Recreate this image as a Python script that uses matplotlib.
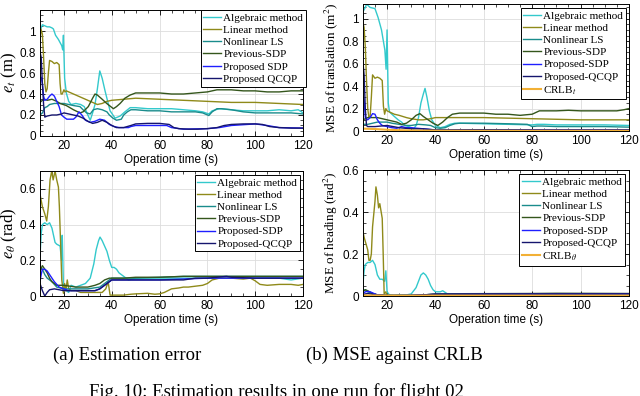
import numpy as np
import matplotlib
matplotlib.use('Agg')
import matplotlib.pyplot as plt
from matplotlib.ticker import AutoMinorLocator, FuncFormatter

plt.rcParams['font.family'] = ['Liberation Sans', 'DejaVu Sans']
plt.rcParams['mathtext.fontset'] = 'stix'

# ---------------- data ----------------
# (a) top: translation error e_t (m)
et_alg_t = [10, 11, 12, 13, 14, 15, 15.6, 16.5, 17.7, 19.1, 19.5, 19.8, 20.3, 21, 22, 23, 25, 27, 28.5, 30, 31, 32, 33, 34, 35, 36, 37.2, 38.3, 39.3, 41.4, 43.5, 45.5, 47.7, 50, 55, 60, 65, 70, 75, 78, 80.6, 82, 85, 90, 95, 100, 105, 110, 115, 118, 120]
et_alg = [1.0, 1.06, 1.05, 1.04, 1.04, 1.03, 1.02, 0.96, 0.92, 0.86, 0.82, 0.96, 0.55, 0.41, 0.33, 0.3, 0.31, 0.3, 0.28, 0.2, 0.15, 0.22, 0.3, 0.45, 0.62, 0.55, 0.43, 0.33, 0.24, 0.17, 0.19, 0.23, 0.27, 0.27, 0.26, 0.26, 0.26, 0.25, 0.24, 0.23, 0.21, 0.24, 0.26, 0.25, 0.24, 0.24, 0.24, 0.25, 0.24, 0.25, 0.22]
et_lin_t = [10, 10.4, 11, 11.5, 12, 12.5, 13, 13.5, 14, 15, 16, 17, 18, 18.4, 18.8, 19.3, 20, 20.5, 21, 22, 24, 26, 28, 30, 32, 34, 36, 38, 40, 45, 50, 60, 70, 80, 90, 100, 110, 120]
et_lin = [0.9, 1.02, 0.97, 0.75, 0.5, 0.42, 0.45, 0.6, 0.72, 0.71, 0.69, 0.7, 0.68, 0.5, 0.4, 0.4, 0.44, 0.42, 0.43, 0.42, 0.4, 0.38, 0.36, 0.34, 0.32, 0.3, 0.31, 0.33, 0.34, 0.35, 0.36, 0.35, 0.34, 0.33, 0.32, 0.32, 0.31, 0.3]
et_nls_t = [10, 11, 12, 13, 14, 16, 18, 20, 22, 24, 26.7, 28, 29.5, 31, 32.3, 34, 36, 38, 39, 40.5, 42, 44, 45, 46.5, 48, 50, 55, 60, 65, 70, 75, 78, 80.6, 82, 84, 86, 90, 95, 100, 105, 110, 115, 120]
et_nls = [0.2, 0.22, 0.27, 0.28, 0.3, 0.31, 0.31, 0.31, 0.3, 0.29, 0.28, 0.25, 0.22, 0.21, 0.25, 0.26, 0.25, 0.23, 0.2, 0.17, 0.15, 0.16, 0.2, 0.23, 0.25, 0.25, 0.24, 0.24, 0.23, 0.23, 0.23, 0.22, 0.195, 0.23, 0.26, 0.26, 0.25, 0.23, 0.22, 0.22, 0.22, 0.22, 0.21]
et_prev_t = [10, 11, 12, 13, 15, 17, 18.4, 21, 24, 26.7, 28, 30.2, 32, 33, 34, 36, 37.9, 40.7, 42, 43.5, 45.5, 47.7, 50, 55, 60, 65, 70, 75, 80, 82, 84, 90, 95, 100, 105, 110, 115, 120]
et_prev = [0.32, 0.34, 0.35, 0.34, 0.35, 0.33, 0.31, 0.29, 0.25, 0.22, 0.23, 0.28, 0.36, 0.4, 0.39, 0.35, 0.31, 0.26, 0.28, 0.31, 0.36, 0.39, 0.41, 0.41, 0.41, 0.4, 0.4, 0.41, 0.42, 0.43, 0.44, 0.44, 0.43, 0.43, 0.42, 0.42, 0.43, 0.43]
et_sdp_t = [10, 10.5, 11, 11.5, 12, 13, 14, 15, 16, 17, 18, 19, 20, 21.2, 24, 25, 26.3, 27.5, 29, 31, 33, 35, 37, 39, 41, 43, 45, 47, 48, 50, 55, 60, 63, 65, 70, 80, 85, 90, 100, 105, 110, 120]
et_sdp = [0.55, 0.56, 0.5, 0.38, 0.34, 0.35, 0.38, 0.4, 0.38, 0.33, 0.28, 0.2, 0.18, 0.16, 0.16, 0.18, 0.23, 0.2, 0.15, 0.13, 0.14, 0.16, 0.15, 0.11, 0.09, 0.08, 0.08, 0.08, 0.09, 0.1, 0.1, 0.1, 0.1, 0.08, 0.065, 0.07, 0.08, 0.1, 0.115, 0.1, 0.08, 0.075]
et_qcqp_t = [10, 10.5, 11, 11.5, 12, 13, 15, 17, 19, 20, 22, 24, 26, 28, 30, 32, 34, 36, 38, 40, 42, 45, 48, 50, 55, 60, 64, 66, 68, 72, 76, 80, 84, 87, 90, 95, 100, 103, 106, 110, 115, 120]
et_qcqp = [0.8, 0.75, 0.5, 0.3, 0.18, 0.19, 0.2, 0.2, 0.21, 0.22, 0.21, 0.2, 0.19, 0.17, 0.14, 0.12, 0.13, 0.15, 0.13, 0.1, 0.08, 0.08, 0.1, 0.115, 0.12, 0.12, 0.11, 0.08, 0.07, 0.065, 0.065, 0.07, 0.08, 0.1, 0.11, 0.115, 0.115, 0.11, 0.09, 0.08, 0.075, 0.075]

# (b) top: MSE of translation (m^2)
mt_alg_t = [10, 11, 11.5, 13, 15, 16.3, 17.7, 19.1, 19.6, 20, 20.5, 21, 22, 23, 24.6, 26, 27.4, 29, 30, 31, 32, 33, 34, 35, 35.7, 36.5, 37.5, 38.5, 40, 42, 44, 46, 48, 50, 60, 70, 80, 82, 85, 90, 100, 110, 120]
mt_alg = [1.06, 1.1, 1.13, 1.1, 1.09, 1.01, 0.9, 0.72, 0.55, 0.9, 0.25, 0.17, 0.15, 0.13, 0.1, 0.08, 0.05, 0.04, 0.03, 0.02, 0.05, 0.12, 0.25, 0.33, 0.38, 0.3, 0.18, 0.1, 0.05, 0.03, 0.04, 0.06, 0.07, 0.07, 0.065, 0.06, 0.055, 0.06, 0.06, 0.055, 0.055, 0.055, 0.05]
mt_lin_t = [10, 10.5, 11, 11.5, 12, 12.5, 13, 13.5, 14, 15, 16, 17, 18, 18.5, 19, 19.5, 20, 21, 23, 25, 28, 30, 33, 35, 38, 40, 45, 50, 60, 70, 80, 90, 100, 110, 120]
mt_lin = [0.97, 0.92, 0.75, 0.45, 0.2, 0.12, 0.13, 0.3, 0.5, 0.47, 0.48, 0.47, 0.45, 0.22, 0.15, 0.2, 0.18, 0.17, 0.15, 0.14, 0.12, 0.11, 0.1, 0.1, 0.11, 0.12, 0.12, 0.12, 0.12, 0.115, 0.11, 0.105, 0.1, 0.1, 0.1]
mt_nls_t = [10, 12, 14, 16, 18, 20, 22, 25, 28, 30, 33, 36, 38, 40, 42, 44, 46, 48, 50, 60, 70, 78, 80, 82, 84, 90, 100, 110, 120]
mt_nls = [0.06, 0.06, 0.07, 0.08, 0.08, 0.08, 0.07, 0.06, 0.05, 0.05, 0.06, 0.055, 0.05, 0.03, 0.025, 0.03, 0.05, 0.065, 0.07, 0.07, 0.065, 0.06, 0.04, 0.045, 0.045, 0.04, 0.04, 0.04, 0.035]
mt_prev_t = [10, 12, 14, 16, 18, 20, 22, 24, 26, 28, 30, 32, 33.6, 35, 37, 39, 41, 43, 45, 47, 50, 55, 60, 65, 70, 75, 80, 83, 90, 95, 100, 105, 110, 115, 118, 120]
mt_prev = [0.1, 0.12, 0.12, 0.12, 0.11, 0.1, 0.09, 0.08, 0.06, 0.07, 0.1, 0.14, 0.155, 0.13, 0.1, 0.07, 0.05, 0.08, 0.12, 0.15, 0.16, 0.16, 0.16, 0.15, 0.15, 0.14, 0.15, 0.18, 0.18, 0.185, 0.18, 0.18, 0.18, 0.18, 0.19, 0.2]
mt_sdp_t = [10, 10.5, 11, 12, 13, 14, 15, 16, 17, 18, 20, 22, 24, 26, 28, 30, 35, 40, 50, 60, 80, 100, 120]
mt_sdp = [0.32, 0.28, 0.12, 0.1, 0.12, 0.155, 0.15, 0.1, 0.07, 0.05, 0.04, 0.03, 0.025, 0.04, 0.03, 0.03, 0.02, 0.01, 0.01, 0.012, 0.012, 0.012, 0.012]
mt_qcqp_t = [10, 10.5, 11, 11.5, 12, 15, 20, 25, 30, 35, 40, 60, 80, 100, 120]
mt_qcqp = [0.62, 0.5, 0.2, 0.05, 0.04, 0.04, 0.05, 0.03, 0.02, 0.02, 0.01, 0.012, 0.01, 0.01, 0.01]
mt_crlb_t = [10, 15, 20, 25, 30, 40, 60, 80, 100, 120]
mt_crlb = [0.022, 0.018, 0.012, 0.008, 0.005, 0.004, 0.003, 0.003, 0.003, 0.003]

# (a) bottom: heading error e_theta (rad)
eh_alg_t = [10, 10.5, 11, 12, 13, 14, 15, 16.3, 17, 18.4, 19, 19.3, 19.8, 21, 22, 23, 25, 27, 29, 31, 32.5, 33.5, 34.5, 35.1, 36, 37, 38, 39, 40, 41, 42, 43, 45, 47, 50, 60, 70, 80, 90, 100, 110, 115, 120]
eh_alg = [0.22, 0.35, 0.4, 0.41, 0.4, 0.41, 0.38, 0.3, 0.29, 0.28, 0.2, 0.34, 0.05, 0.03, 0.02, 0.06, 0.05, 0.06, 0.07, 0.1, 0.18, 0.26, 0.31, 0.33, 0.31, 0.28, 0.25, 0.2, 0.16, 0.16, 0.15, 0.13, 0.11, 0.09, 0.1, 0.1, 0.1, 0.1, 0.1, 0.1, 0.1, 0.09, 0.1]
eh_lin_t = [10, 11, 12, 12.8, 13.5, 14.2, 14.9, 15.5, 16.3, 17, 17.7, 18.1, 18.6, 19.1, 19.8, 20.3, 20.8, 21.4, 22, 23, 25, 27, 30, 33, 36, 37.5, 38.5, 39.3, 42, 45, 48, 50, 55, 58, 60, 62, 65, 68, 70, 72, 75, 78, 80, 82, 85, 87, 90, 95, 98, 100, 102, 105, 110, 115, 118, 120]
eh_lin = [0.57, 0.5, 0.46, 0.42, 0.5, 0.65, 0.7, 0.65, 0.7, 0.65, 0.61, 0.5, 0.3, 0.09, 0.015, 0.07, 0.03, 0.09, 0.04, 0.03, 0.03, 0.02, 0.02, 0.02, 0.02, 0.04, 0.08, 0.005, 0.005, 0.005, 0.01, 0.012, 0.015, 0.01, 0.012, 0.02, 0.04, 0.045, 0.05, 0.05, 0.055, 0.06, 0.07, 0.09, 0.1, 0.1, 0.1, 0.095, 0.1, 0.085, 0.065, 0.06, 0.065, 0.065, 0.06, 0.065]
eh_nls_t = [10, 11, 12, 13, 15, 17, 20, 25, 30, 35, 38, 40, 45, 50, 60, 70, 80, 90, 100, 110, 120]
eh_nls = [0.16, 0.15, 0.12, 0.1, 0.08, 0.05, 0.04, 0.04, 0.04, 0.05, 0.08, 0.1, 0.1, 0.1, 0.105, 0.11, 0.11, 0.11, 0.11, 0.11, 0.11]
eh_prev_t = [10, 11, 12, 13, 14, 15, 17, 20, 25, 30, 33, 35, 37, 39, 40, 45, 50, 60, 70, 80, 90, 100, 110, 120]
eh_prev = [0.14, 0.17, 0.15, 0.13, 0.1, 0.08, 0.06, 0.06, 0.05, 0.05, 0.06, 0.07, 0.09, 0.1, 0.1, 0.1, 0.105, 0.105, 0.11, 0.11, 0.11, 0.11, 0.11, 0.11]
eh_sdp_t = [10, 10.5, 11, 12, 13, 14, 15, 16, 18, 20, 22, 25, 30, 33, 35, 37, 39, 40, 45, 50, 60, 70, 80, 90, 100, 120]
eh_sdp = [0.08, 0.12, 0.15, 0.15, 0.14, 0.12, 0.1, 0.08, 0.05, 0.04, 0.03, 0.03, 0.03, 0.03, 0.04, 0.06, 0.08, 0.09, 0.09, 0.09, 0.09, 0.095, 0.1, 0.1, 0.1, 0.1]
eh_qcqp_t = [10, 11, 12, 13, 14, 16, 18, 20, 25, 30, 33, 35, 37, 39, 40, 45, 50, 60, 70, 75, 80, 88, 90, 100, 110, 120]
eh_qcqp = [0.07, 0.03, 0.0, 0.02, 0.035, 0.04, 0.035, 0.03, 0.03, 0.03, 0.03, 0.04, 0.06, 0.08, 0.09, 0.09, 0.09, 0.09, 0.09, 0.1, 0.1, 0.11, 0.105, 0.1, 0.1, 0.1]

# (b) bottom: MSE of heading (rad^2)
mh_alg_t = [10, 10.5, 11, 12, 13, 14, 15, 16, 17, 18, 19, 19.5, 20, 21, 23, 25, 28, 30, 32, 33, 34, 35, 36, 37, 38, 39, 40, 42, 43, 45, 48, 60, 80, 100, 120]
mh_alg = [0.05, 0.12, 0.15, 0.16, 0.16, 0.17, 0.15, 0.1, 0.08, 0.08, 0.07, 0.12, 0.02, 0.005, 0.002, 0.005, 0.005, 0.01, 0.04, 0.07, 0.1, 0.11, 0.1, 0.08, 0.05, 0.03, 0.02, 0.02, 0.025, 0.01, 0.01, 0.01, 0.01, 0.01, 0.01]
mh_lin_t = [10, 10.5, 11, 12, 12.5, 13, 13.5, 14, 14.5, 15, 15.4, 16, 16.5, 17, 18, 18.4, 18.8, 19.5, 20, 25, 40, 60, 65, 80, 100, 120]
mh_lin = [0.31, 0.28, 0.26, 0.22, 0.17, 0.17, 0.2, 0.33, 0.39, 0.45, 0.52, 0.48, 0.42, 0.44, 0.37, 0.2, 0.01, 0.02, 0.0, 0.001, 0.001, 0.002, 0.004, 0.005, 0.005, 0.005]
mh_nls_t = [10, 11, 12, 14, 16, 20, 30, 40, 50, 60, 80, 100, 120]
mh_nls = [0.025, 0.03, 0.02, 0.01, 0.005, 0.002, 0.003, 0.008, 0.01, 0.01, 0.01, 0.01, 0.01]
mh_prev_t = [10, 11, 12, 14, 16, 20, 30, 35, 40, 50, 80, 90, 120]
mh_prev = [0.02, 0.03, 0.025, 0.012, 0.006, 0.004, 0.003, 0.005, 0.01, 0.011, 0.012, 0.013, 0.012]
mh_sdp_t = [10, 11, 12, 13, 14, 15, 16, 20, 30, 40, 120]
mh_sdp = [0.01, 0.02, 0.022, 0.02, 0.015, 0.01, 0.005, 0.002, 0.003, 0.008, 0.01]
mh_qcqp_t = [10, 11, 12, 14, 16, 20, 30, 40, 60, 120]
mh_qcqp = [0.005, 0.01, 0.012, 0.008, 0.004, 0.002, 0.003, 0.008, 0.009, 0.01]
mh_crlb_t = [10, 20, 40, 80, 120]
mh_crlb = [0.003, 0.002, 0.002, 0.002, 0.002]

# ---------------- styling ----------------
c_alg = '#33c9cc'
c_lin = '#8f8a1a'
c_nls = '#1a8c8c'
c_prev = '#34561c'
c_sdp = '#1f1fff'
c_qcqp = '#15156e'
c_crlb = '#f2b035'

serif = 'Liberation Serif'


def style_axes(ax, ymax, yticks):
    ax.set_xlim(10, 120)
    ax.set_ylim(0, ymax)
    ax.set_xticks([20, 40, 60, 80, 100, 120])
    ax.set_yticks(yticks)
    ax.yaxis.set_major_formatter(FuncFormatter(lambda v, p: '%g' % v))
    ax.xaxis.set_minor_locator(AutoMinorLocator(4))
    ax.yaxis.set_minor_locator(AutoMinorLocator(4))
    ax.tick_params(which='both', direction='in', top=True, right=True, labelsize=8.5, pad=3)
    ax.tick_params(which='major', length=3.5, width=0.6)
    ax.tick_params(which='minor', length=2, width=0.5)
    ax.grid(True, which='major', color='#dddddd', lw=0.6)
    ax.set_axisbelow(True)
    for s in ax.spines.values():
        s.set_linewidth(0.7)
    ax.set_xlabel('Operation time (s)', fontsize=8.5, labelpad=1)


def add_legend(ax, anchor):
    leg = ax.legend(loc='upper right', bbox_to_anchor=anchor, borderaxespad=0,
                    prop={'family': serif, 'size': 8}, handlelength=1.6,
                    handletextpad=0.2, labelspacing=0.22, borderpad=0.25,
                    fancybox=False, framealpha=1, edgecolor='black')
    leg.get_frame().set_linewidth(0.7)


fig = plt.figure(figsize=(6.4, 3.96), dpi=100)
lw = 1.0

# top left
ax = fig.add_axes([0.0625, 0.6566, 0.411, 0.318])
ax.plot(et_alg_t, et_alg, color=c_alg, lw=lw, label='Algebraic method')
ax.plot(et_lin_t, et_lin, color=c_lin, lw=lw, label='Linear method')
ax.plot(et_nls_t, et_nls, color=c_nls, lw=lw, label='Nonlinear LS')
ax.plot(et_prev_t, et_prev, color=c_prev, lw=lw, label='Previous-SDP')
ax.plot(et_sdp_t, et_sdp, color=c_sdp, lw=lw, label='Proposed SDP')
ax.plot(et_qcqp_t, et_qcqp, color=c_qcqp, lw=lw, label='Proposed QCQP')
style_axes(ax, 1.2, [0, 0.2, 0.4, 0.6, 0.8, 1.0])
ax.set_ylabel(r'$e_t$ (m)', family=serif, fontsize=12)
ax.yaxis.set_label_coords(-0.078, 0.5)
add_legend(ax, (1.011, 1.0))

# top right
ax = fig.add_axes([0.567, 0.669, 0.4156, 0.3207])
ax.plot(mt_alg_t, mt_alg, color=c_alg, lw=lw, label='Algebraic method')
ax.plot(mt_lin_t, mt_lin, color=c_lin, lw=lw, label='Linear method')
ax.plot(mt_nls_t, mt_nls, color=c_nls, lw=lw, label='Nonlinear LS')
ax.plot(mt_prev_t, mt_prev, color=c_prev, lw=lw, label='Previous-SDP')
ax.plot(mt_sdp_t, mt_sdp, color=c_sdp, lw=lw, label='Proposed-SDP')
ax.plot(mt_qcqp_t, mt_qcqp, color=c_qcqp, lw=lw, label='Proposed-QCQP')
ax.plot(mt_crlb_t, mt_crlb, color=c_crlb, lw=1.5, label=r'CRLB$_t$')
style_axes(ax, 1.13, [0, 0.2, 0.4, 0.6, 0.8, 1.0])
ax.set_ylabel(r'MSE of translation (m$^2$)', family=serif, fontsize=9.5)
ax.yaxis.set_label_coords(-0.085, 0.5)
add_legend(ax, (0.989, 0.969))

# bottom left
ax = fig.add_axes([0.0625, 0.2525, 0.411, 0.3157])
ax.plot(eh_alg_t, eh_alg, color=c_alg, lw=lw, label='Algebraic method')
ax.plot(eh_lin_t, eh_lin, color=c_lin, lw=lw, label='Linear method')
ax.plot(eh_nls_t, eh_nls, color=c_nls, lw=lw, label='Nonlinear LS')
ax.plot(eh_prev_t, eh_prev, color=c_prev, lw=lw, label='Previous-SDP')
ax.plot(eh_sdp_t, eh_sdp, color=c_sdp, lw=lw, label='Proposed-SDP')
ax.plot(eh_qcqp_t, eh_qcqp, color=c_qcqp, lw=lw, label='Proposed-QCQP')
style_axes(ax, 0.7, [0, 0.2, 0.4, 0.6])
ax.set_ylabel(r'$e_\theta$ (rad)', family=serif, fontsize=12)
ax.yaxis.set_label_coords(-0.078, 0.5)
add_legend(ax, (0.989, 0.968))

# bottom right
ax = fig.add_axes([0.567, 0.2525, 0.4156, 0.318])
ax.plot(mh_alg_t, mh_alg, color=c_alg, lw=lw, label='Algebraic method')
ax.plot(mh_lin_t, mh_lin, color=c_lin, lw=lw, label='Linear method')
ax.plot(mh_nls_t, mh_nls, color=c_nls, lw=lw, label='Nonlinear LS')
ax.plot(mh_prev_t, mh_prev, color=c_prev, lw=lw, label='Previous-SDP')
ax.plot(mh_sdp_t, mh_sdp, color=c_sdp, lw=lw, label='Proposed-SDP')
ax.plot(mh_qcqp_t, mh_qcqp, color=c_qcqp, lw=lw, label='Proposed-QCQP')
ax.plot(mh_crlb_t, mh_crlb, color=c_crlb, lw=1.5, label=r'CRLB$_\theta$')
style_axes(ax, 0.6, [0, 0.2, 0.4, 0.6])
ax.set_ylabel(r'MSE of heading (rad$^2$)', family=serif, fontsize=9.5)
ax.yaxis.set_label_coords(-0.085, 0.5)
add_legend(ax, (0.985, 0.968))

# captions
fig.text(127 / 640, 1 - 360 / 396, '(a) Estimation error', family=serif, fontsize=13.5,
         ha='center', va='baseline')
fig.text(394 / 640, 1 - 360 / 396, '(b) MSE against CRLB', family=serif, fontsize=13.5,
         ha='center', va='baseline')
fig.text(276 / 640, 1 - 397 / 396, 'Fig. 10: Estimation results in one run for flight 02',
         family=serif, fontsize=13.5, ha='center', va='baseline')

fig.savefig('out.png', dpi=100)
